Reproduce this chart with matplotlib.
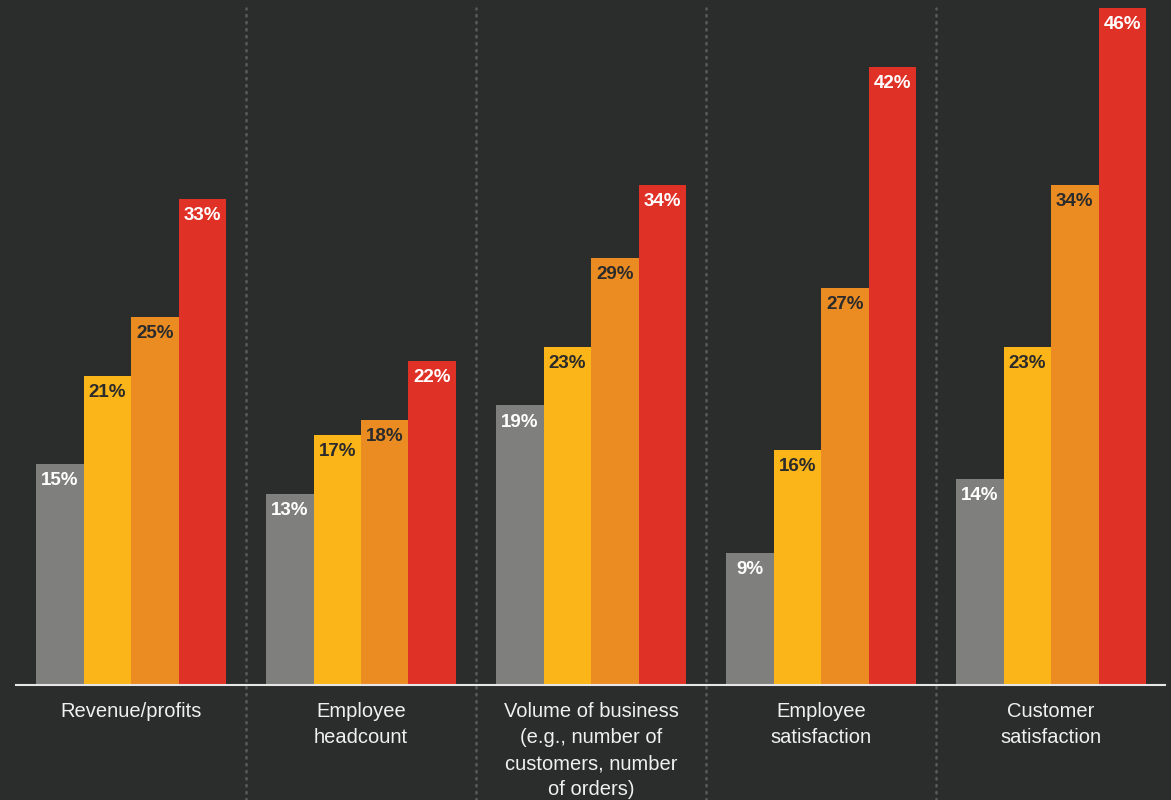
import matplotlib.pyplot as plt

# data
categories = ["Revenue/profits", "Employee\nheadcount",
              "Volume of business\n(e.g., number of\ncustomers, number\nof orders)",
              "Employee\nsatisfaction", "Customer\nsatisfaction"]
gray_vals = [15, 13, 19, 9, 14]
yellow_vals = [21, 17, 23, 16, 23]
orange_vals = [25, 18, 29, 27, 34]
red_vals = [33, 22, 34, 42, 46]

series = [gray_vals, yellow_vals, orange_vals, red_vals]
colors = ["#7f7f7e", "#fbb518", "#eb8c23", "#e03127"]
txt_colors = ["white", "#2b2b2b", "#2b2b2b", "white"]
bg = "#2b2c2c"

W, H = 1171, 800
fig = plt.figure(figsize=(W / 100, H / 100), dpi=100, facecolor=bg)
# baseline at 685 px from top, 46% at 8 px from top
ax = fig.add_axes([0, 115 / H, 1, (685 - 8) / H])
ax.set_facecolor(bg)
ax.set_xlim(-131 / 230, (W - 131) / 230)
ax.set_ylim(0, 46)
ax.axis("off")

bw = 47.5 / 230
for k, vals in enumerate(series):
    for i, v in enumerate(vals):
        x = i + (k - 1.5) * bw
        ax.bar(x, v, width=bw, color=colors[k], linewidth=0, zorder=2)
        ax.annotate(f"{v}%", (x, v), xytext=(0, -12), textcoords="offset points",
                    ha="center", va="center", fontsize=13.5, fontweight="bold",
                    color=txt_colors[k], family="Liberation Sans", zorder=3)

# baseline
ax.plot([-115 / 230, (1165 - 131) / 230], [0, 0], color="#e6e6e6", lw=1.5,
        zorder=4, clip_on=False)

# dotted separators
bottom = -115 / 677 * 46
for i in range(len(categories) - 1):
    ax.plot([i + 0.5, i + 0.5], [bottom, 46], color="#595b5b", lw=1.8,
            linestyle=(0, (0.6, 2.2)), dash_capstyle="round", zorder=1, clip_on=False)

# category labels
for i, c in enumerate(categories):
    ax.annotate(c, (i, 0), xytext=(0, -12.5), textcoords="offset points",
                ha="center", va="top", fontsize=14.5, color="#f0f0f0",
                family="Liberation Sans", linespacing=1.46, annotation_clip=False)

fig.savefig("out.png", dpi=100, facecolor=bg)
